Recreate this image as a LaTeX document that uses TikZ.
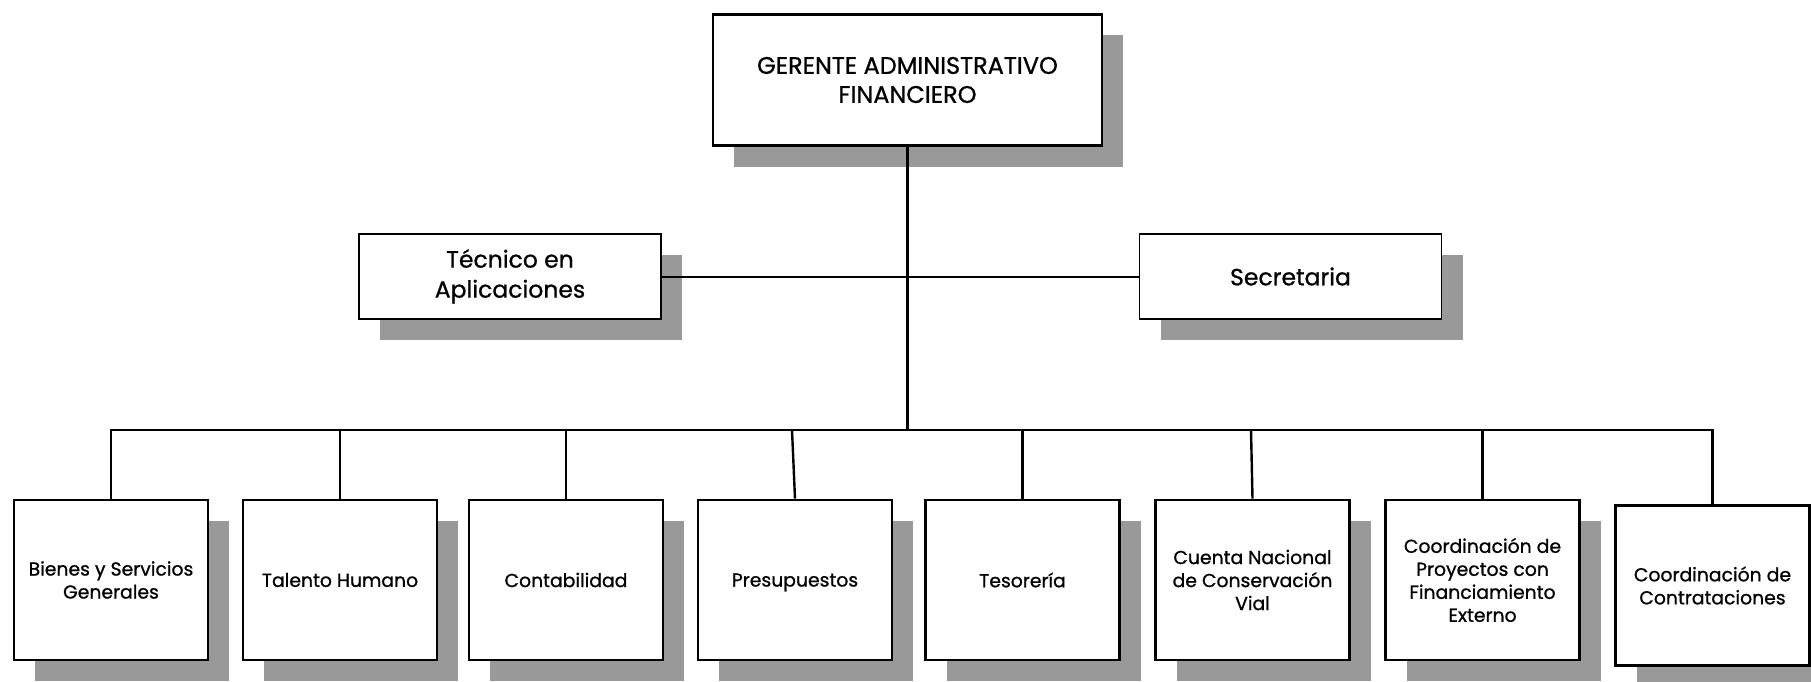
\documentclass[tikz,border=0pt]{standalone}
\usepackage{fontspec}
\setmainfont{Poppins}[FakeBold=0.9]
\usetikzlibrary{shadows}
\definecolor{shadowgray}{RGB}{153,153,153}
\begin{document}
\begin{tikzpicture}[x=1pt,y=-1pt,
  shadowed/.style={drop shadow={shadow xshift=21pt, shadow yshift=-21pt, fill=shadowgray, opacity=1}},
  head/.style={draw, line width=2.8pt, fill=white, minimum width=389pt, minimum height=131pt,
    inner sep=0pt, align=center, font=\fontsize{24}{29}\selectfont, shadowed},
  staff/.style={draw, line width=1.2pt, fill=white, minimum width=302pt, minimum height=85pt,
    inner sep=0pt, align=center, font=\fontsize{23.5}{30}\selectfont, shadowed},
  unit/.style={draw, line width=2.7pt, fill=white, minimum width=194pt, minimum height=160pt,
    inner sep=0pt, align=center, font=\fontsize{18.8}{23}\selectfont, shadowed},
  trunk/.style={line width=3pt},
  bus/.style={line width=2.8pt},
  drop/.style={line width=2.4pt},
  link/.style={line width=2pt}]
\useasboundingbox (0,0) rectangle (1811,682);

% head of the department
\node[head] (ger) at (907.5,80) {GERENTE ADMINISTRATIVO\\FINANCIERO};

% staff positions
\node[staff] (tec) at (510,276.5) {Técnico en\\Aplicaciones};
\node[staff] (sec) at (1290.5,276.5) {Secretaria};

% operating units
\node[unit] (u1) at (111,580) {Bienes y Servicios\\Generales};
\node[unit] (u2) at (340,580) {Talento Humano};
\node[unit] (u3) at (566,580) {Contabilidad};
\node[unit, text depth=0pt] (u4) at (795,580) {Presupuestos};
\node[unit] (u5) at (1022.5,580) {Tesorería};
\node[unit] (u6) at (1252.5,580) {Cuenta Nacional\\de Conservación\\Vial};
\node[unit] (u7) at (1482.5,580) {Coordinación de\\Proyectos con\\Financiamiento\\Externo};
\node[unit] (u8) at (1712.5,585.5) {Coordinación de\\Contrataciones};

% bus junction points
\coordinate (j) at (907.5,430);
\coordinate (b1) at (111,430);
\coordinate (b2) at (340,430);
\coordinate (b3) at (566,430);
\coordinate (b4) at (792,430);
\coordinate (b5) at (1022.5,430);
\coordinate (b6) at (1251,430);
\coordinate (b7) at (1482.5,430);
\coordinate (b8) at (1712.5,430);

% staff link
\draw[link] (tec.east) -- (sec.west);
% main trunk
\draw[trunk] (ger.south) -- (j);
% horizontal bus
\draw[bus, line cap=rect] (b1) -- (b8);
% drops to the units
\draw[drop] (b1) -- (u1.north);
\draw[drop] (b2) -- (u2.north);
\draw[drop] (b3) -- (u3.north);
\draw[drop] (b4) -- (u4.north);
\draw[drop] (b5) -- (u5.north);
\draw[drop] (b6) -- (u6.north);
\draw[drop] (b7) -- (u7.north);
\draw[drop] (b8) -- (u8.north);
\end{tikzpicture}
\end{document}
